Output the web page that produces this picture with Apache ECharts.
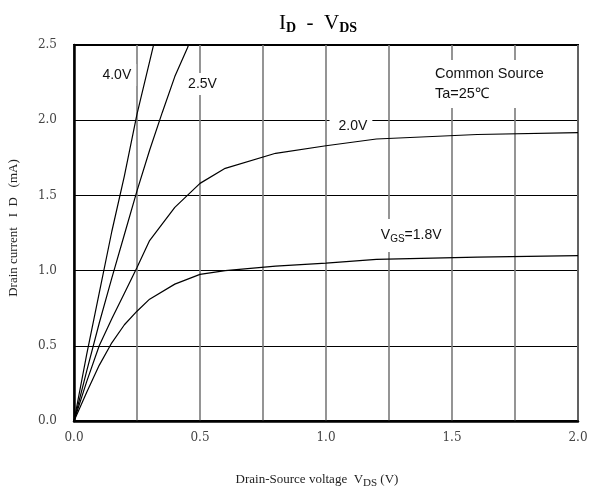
<!DOCTYPE html>
<html>
<head>
<meta charset="utf-8">
<script src="https://cdn.jsdelivr.net/npm/echarts@6/dist/echarts.min.js"></script>
<style>
  html, body { margin: 0; padding: 0; background: #fff; }
  #chart { width: 589px; height: 493px; }
</style>
</head>
<body>
<div id="chart"></div>
<script>
// Drain current vs. drain-source voltage, one curve per gate voltage
const vdsLow = [0, 0.05, 0.1, 0.15, 0.2, 0.25, 0.3, 0.4, 0.5, 0.6, 0.8, 1.0, 1.2, 1.6, 2.0];
const id18 = [0, 0.19, 0.37, 0.52, 0.64, 0.73, 0.81, 0.91, 0.975, 1.0, 1.03, 1.05, 1.075, 1.09, 1.10];
const id20 = [0, 0.26, 0.5, 0.68, 0.85, 1.02, 1.2, 1.42, 1.58, 1.68, 1.78, 1.83, 1.875, 1.905, 1.917];

const vds25 = [0, 0.05, 0.1, 0.15, 0.2, 0.25, 0.3, 0.35, 0.4, 0.45, 0.5];
const id25 = [0, 0.33, 0.65, 0.95, 1.24, 1.53, 1.80, 2.05, 2.29, 2.48, 2.70];

const vds40 = [0, 0.05, 0.1, 0.15, 0.2, 0.25, 0.3, 0.35];
const id40 = [0, 0.44, 0.85, 1.26, 1.63, 2.04, 2.39, 2.74];

const xTicks = [0, 0.5, 1.0, 1.5, 2.0];
const yTicks = [0, 0.5, 1.0, 1.5, 2.0, 2.5];

const pairs = (xs, ys) => xs.map((x, i) => [x, ys[i]]);

const serif = '"Liberation Serif", "DejaVu Serif", serif';
const tickSerif = '"DejaVu Serif", "Liberation Serif", serif';
const sans = '"Liberation Sans", Arial, sans-serif';

// Curve tags drawn on a white box so grid lines break around them
function tag(coord, text, pad) {
  return {
    coord: coord,
    symbol: 'rect',
    symbolSize: 1,
    itemStyle: { color: 'rgba(0,0,0,0)' },
    label: {
      show: true,
      position: 'inside',
      formatter: text,
      fontFamily: sans,
      fontSize: 14,
      color: '#111',
      backgroundColor: '#fff',
      padding: pad || [4, 5],
      rich: {
        sub: { fontFamily: sans, fontSize: 10, color: '#111', padding: [7, 0, 0, 0] }
      }
    }
  };
}

function curve(name, data, tags) {
  return {
    name: name,
    type: 'line',
    data: data,
    symbol: 'none',
    smooth: false,
    clip: true,
    lineStyle: { color: '#000', width: 1.2 },
    markPoint: { silent: true, data: tags || [] },
    z: 3
  };
}

const chart = echarts.init(document.getElementById('chart'), null, { renderer: 'canvas' });

chart.setOption({
  backgroundColor: '#fff',
  animation: false,
  title: {
    text: 'I{sub|D}  -  V{sub|DS}',
    left: 313,
    textAlign: 'center',
    top: 6,
    textStyle: {
      fontFamily: serif,
      fontSize: 21,
      fontWeight: 'normal',
      color: '#000',
      rich: {
        sub: { fontFamily: serif, fontSize: 14, fontWeight: 'bold', color: '#000', padding: [10, 0, 0, 0] }
      }
    }
  },
  grid: {
    left: 74, right: 11, top: 45, bottom: 72,
    containLabel: false,
    outerBoundsMode: 'none',
    show: true,
    borderColor: '#000',
    borderWidth: 2
  },
  xAxis: {
    type: 'value',
    min: 0, max: 2.0, interval: 0.25,
    name: 'Drain-Source voltage  V{sub|DS} (V)',
    nameLocation: 'middle',
    nameGap: 50,
    nameTextStyle: {
      fontFamily: serif, fontSize: 13, color: '#222',
      padding: [0, 18, 0, 0],
      rich: { sub: { fontFamily: serif, fontSize: 11, color: '#222', padding: [7, 0, 0, 0] } }
    },
    axisLine: { show: true, lineStyle: { color: '#000', width: 2.5 } },
    axisTick: { show: false },
    axisLabel: {
      margin: 11,
      fontFamily: tickSerif, fontSize: 12, color: '#444',
      formatter: v => {
        const t = xTicks.find(k => Math.abs(k - v) < 1e-9);
        return t === undefined ? '' : t.toFixed(1);
      }
    },
    splitLine: { show: true, lineStyle: { color: '#7a7a7a', width: 1.6 } }
  },
  yAxis: {
    type: 'value',
    min: 0, max: 2.5, interval: 0.5,
    name: 'Drain current   I  D   (mA)',
    nameLocation: 'middle',
    nameGap: 54,
    nameRotate: 90,
    nameTextStyle: { fontFamily: serif, fontSize: 13, color: '#222', padding: [0, 0, 0, 10] },
    axisLine: { show: true, lineStyle: { color: '#000', width: 2.5 } },
    axisTick: { show: false },
    axisLabel: {
      margin: 17,
      fontFamily: tickSerif, fontSize: 12, color: '#444',
      formatter: v => {
        const t = yTicks.find(k => Math.abs(k - v) < 1e-9);
        return t === undefined ? '' : t.toFixed(1);
      }
    },
    splitLine: { show: true, lineStyle: { color: '#000', width: 1 } }
  },
  series: [
    curve('VGS=1.8V', pairs(vdsLow, id18), [tag([1.338, 1.233], 'V{sub|GS}=1.8V', [8, 4])]),
    curve('VGS=2.0V', pairs(vdsLow, id20), [tag([1.099, 1.96], '2.0V', [3, 5, 3, 9])]),
    curve('VGS=2.5V', pairs(vds25, id25), [tag([0.51, 2.24], '2.5V')]),
    curve('VGS=4.0V', pairs(vds40, id40), [tag([0.17, 2.30], '4.0V')])
  ],
  graphic: [
    {
      type: 'rect',
      shape: { x: 430, y: 60, width: 128, height: 48 },
      style: { fill: '#fff' },
      z: 10
    },
    {
      type: 'text',
      x: 435, y: 66,
      style: { text: 'Common Source', font: '14.5px ' + sans, fill: '#111' },
      z: 11
    },
    {
      type: 'text',
      x: 435, y: 86,
      style: { text: 'Ta=25℃', font: '14.5px ' + sans, fill: '#111' },
      z: 11
    }
  ]
});
</script>
</body>
</html>
